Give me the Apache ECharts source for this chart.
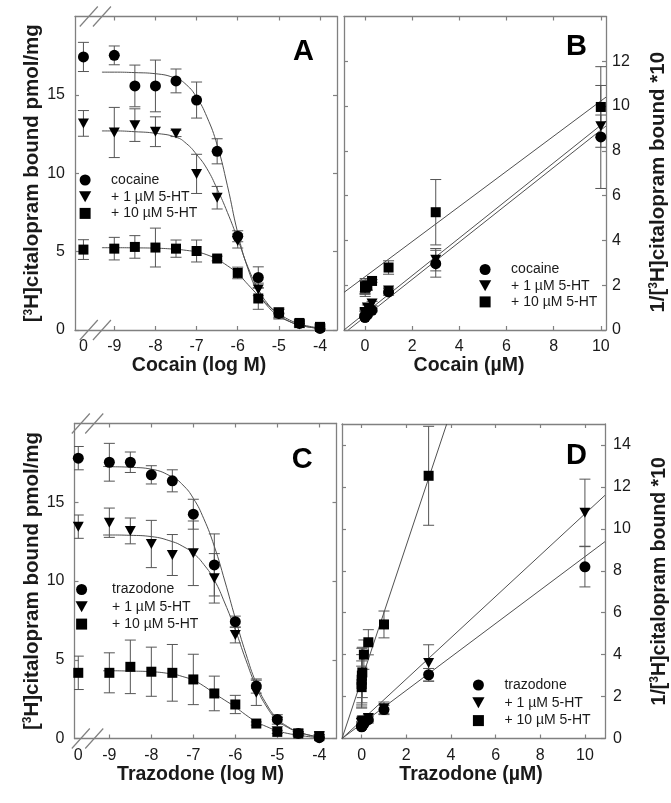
<!DOCTYPE html>
<html><head><meta charset="utf-8">
<script src="https://cdn.jsdelivr.net/npm/echarts@6/dist/echarts.min.js"></script>
<style>html,body{margin:0;padding:0;background:#fff}#c{width:671px;height:803px}</style>
</head><body><div id="c"></div>
<script>
// ================= DATA =================
// log-concentration points (first value of every series is the control "0")
const logConc = [-9, -8.5, -8, -7.5, -7, -6.5, -6, -5.5, -5, -4.5, -4];
const logTickLabels = ['0', '-9', '-8', '-7', '-6', '-5', '-4'];
const seriesNames = ['+ 1 µM 5-HT', '+ 10 µM 5-HT'];

// Panel A: cocaine, [3H]citalopram bound (pmol/mg); index 0 = control
const A_cocaine      = [17.42, 17.52, 15.57, 15.57, 15.89, 14.67, 11.40, 5.98, 3.35, 1.06, 0.42, 0.10];
const A_cocaine_err  = [0.93, 0.60, 1.33, 1.65, 0.76, 1.15, 0.80, 0.35, 0.68, 0.30, 0.20, 0.15];
const A_5ht1         = [13.18, 12.60, 13.07, 12.65, 12.54, 9.96, 8.44, 5.68, 2.59, 1.00, 0.35, 0.12];
const A_5ht1_err     = [0.82, 1.60, 1.04, 0.95, 0.20, 1.25, 0.72, 0.45, 0.40, 0.30, 0.20, 0.15];
const A_5ht10        = [5.13, 5.19, 5.30, 5.26, 5.19, 5.04, 4.56, 3.64, 2.01, 1.12, 0.45, 0.20];
const A_5ht10_err    = [0.63, 0.72, 0.72, 1.24, 0.55, 0.70, 0.15, 0.37, 0.69, 0.30, 0.20, 0.15];
// fitted curves
const A_fitX         = [-9.3, -9, -8.5, -8, -7.5, -7.25, -7, -6.75, -6.5, -6.25, -6, -5.75, -5.5, -5.25, -5, -4.75, -4.5, -4.25, -4];
const A_fit_cocaine  = [16.45, 16.45, 16.42, 16.35, 16.05, 15.65, 14.85, 13.6, 11.8, 9.2, 6.2, 3.9, 2.4, 1.45, 0.9, 0.55, 0.32, 0.18, 0.10];
const A_fit_5ht1     = [12.7, 12.7, 12.65, 12.55, 12.3, 11.9, 11.2, 10.3, 9.0, 7.5, 5.8, 4.0, 2.6, 1.6, 0.95, 0.55, 0.32, 0.18, 0.10];
const A_fit_5ht10    = [5.25, 5.25, 5.24, 5.22, 5.15, 5.08, 4.98, 4.8, 4.5, 4.1, 3.6, 2.9, 2.2, 1.55, 1.05, 0.65, 0.4, 0.23, 0.13];

// Panel B: cocaine (µM) vs 1/[3H]citalopram bound *10
const uMConc         = [0, 0.001, 0.003, 0.01, 0.03, 0.1, 0.3, 1, 3, 10];
const B_cocaine      = [0.57, 0.57, 0.64, 0.64, 0.63, 0.68, 0.88, 1.70, 2.96, 8.62];
const B_cocaine_err  = [0.05, 0.04, 0.06, 0.07, 0.04, 0.06, 0.07, 0.15, 0.60, 2.30];
const B_5ht1         = [0.76, 0.80, 0.77, 0.80, 0.80, 1.00, 1.18, 1.76, 3.14, 9.10];
const B_5ht1_err     = [0.06, 0.12, 0.08, 0.07, 0.03, 0.12, 0.10, 0.15, 0.50, 0.50];
const B_5ht10        = [1.95, 1.93, 1.89, 1.90, 1.93, 1.98, 2.19, 2.79, 5.26, 9.96];
const B_5ht10_err    = [0.25, 0.30, 0.30, 0.40, 0.15, 0.20, 0.06, 0.30, 1.46, 1.80];
const B_line_cocaine = [[-0.71, 0], [10.22, 9.11]];
const B_line_5ht1    = [[-0.89, 0], [10.22, 9.33]];
const B_line_5ht10   = [[-0.89, 1.68], [10.22, 10.40]];

// Panel C: trazodone (log M)
const C_trazodone     = [17.80, 17.54, 17.54, 16.74, 16.36, 14.24, 11.02, 7.42, 3.33, 1.21, 0.32, 0.05];
const C_trazodone_err = [0.74, 1.20, 0.65, 0.58, 0.70, 0.95, 1.97, 0.35, 0.45, 0.30, 0.15, 0.10];
const C_5ht1          = [13.45, 13.70, 13.18, 12.35, 11.65, 11.76, 10.17, 6.57, 2.90, 1.06, 0.30, 0.15];
const C_5ht1_err      = [0.74, 0.93, 0.82, 1.50, 1.30, 2.05, 1.57, 0.50, 0.80, 0.30, 0.15, 0.10];
const C_5ht10         = [4.17, 4.17, 4.55, 4.24, 4.17, 3.75, 2.86, 2.16, 0.95, 0.42, 0.32, 0.15];
const C_5ht10_err     = [1.06, 1.27, 1.70, 1.56, 1.80, 1.60, 1.10, 0.58, 0.10, 0.10, 0.10, 0.10];
const C_fitX          = [-9.15, -9, -8.5, -8, -7.5, -7.25, -7, -6.75, -6.5, -6.25, -6, -5.75, -5.5, -5.25, -5, -4.75, -4.5, -4.25, -4];
const C_fit_trazodone = [17.27, 17.26, 17.22, 17.1, 16.6, 16.1, 15.25, 13.95, 12.2, 10.0, 7.63, 5.4, 3.5, 2.15, 1.27, 0.75, 0.42, 0.22, 0.10];
const C_fit_5ht1      = [12.92, 12.92, 12.9, 12.82, 12.5, 12.2, 11.76, 11.05, 10.06, 8.6, 6.9, 5.0, 3.28, 2.0, 1.17, 0.7, 0.42, 0.22, 0.10];
const C_fit_5ht10     = [4.3, 4.3, 4.28, 4.24, 4.09, 3.93, 3.7, 3.33, 2.86, 2.43, 2.0, 1.5, 1.06, 0.75, 0.49, 0.32, 0.21, 0.12, 0.06];

// Panel D: trazodone (µM)
const D_trazodone     = [0.56, 0.57, 0.57, 0.60, 0.61, 0.70, 0.90, 1.38, 3.04, 8.19];
const D_trazodone_err = [0.03, 0.06, 0.04, 0.04, 0.04, 0.06, 0.16, 0.20, 0.30, 0.96];
const D_5ht1          = [0.74, 0.73, 0.76, 0.81, 0.86, 0.85, 0.98, 1.44, 3.60, 10.77];
const D_5ht1_err      = [0.04, 0.05, 0.06, 0.12, 0.10, 0.18, 0.15, 0.30, 0.87, 1.60];
const D_5ht10         = [2.45, 2.60, 2.80, 3.00, 3.15, 4.00, 4.59, 5.44, 12.53, null];
const D_5ht10_err     = [1.00, 1.10, 1.20, 1.30, 1.20, 0.70, 0.60, 0.64, 2.36, null];
const D_line_trazodone = [[-0.88, 0], [10.9, 9.39]];
const D_line_5ht1      = [[-0.88, 0], [10.9, 11.6]];
const D_line_5ht10     = [[-0.88, 0], [3.81, 15.0]];

// ================= LAYOUT / STYLE =================
const FONT = 'Liberation Sans';
const AXC = '#808080';
const TXT = '#1a1a1a';
const ERRC = '#555';
const FITC = '#505050';
const CTRL_A = -9.75, CTRL_C = -9.74;
const TRI = 'path://M0,0L10,0L5,9Z';
const SQR = 'path://M0,0L10,0L10,10L0,10Z';
const SYM = [{s: 'circle', z: 11}, {s: TRI, z: [11, 10]}, {s: SQR, z: 10}];

const grids = [
  {left: 75,  top: 16.5,  width: 262, height: 313.5},
  {left: 344, top: 16.5,  width: 262, height: 313.5},
  {left: 74.5, top: 423.5, width: 262, height: 315},
  {left: 342, top: 424,   width: 263, height: 314.5}
];

function nameStyle(size) {
  return {fontFamily: FONT, fontWeight: 'bold', fontSize: size, color: TXT,
    rich: {sup: {fontFamily: FONT, fontWeight: 'bold', fontSize: 12, color: TXT, padding: [0, 0, 9, 0]}}};
}
const labelStyle = {fontFamily: FONT, fontSize: 16, color: TXT};

function axisBase(gridIndex, min, max, ticks) {
  return {
    type: 'value', gridIndex, min, max,
    axisLine: {show: true, onZero: false, lineStyle: {color: AXC, width: 1.3}},
    axisTick: {show: true, inside: true, length: 4, customValues: ticks, lineStyle: {color: AXC, width: 1.2}},
    splitLine: {show: false}
  };
}
function mainAxis(gridIndex, min, max, ticks, labels, pos, name, nameGap, margin, fmt, shift, size) {
  const a = axisBase(gridIndex, min, max, ticks);
  a.position = pos;
  a.axisLabel = Object.assign({show: true, margin, customValues: labels, formatter: fmt || (v => String(v))}, labelStyle);
  a.name = name; a.nameLocation = 'middle'; a.nameGap = nameGap;
  a.nameTextStyle = Object.assign({}, nameStyle(size || 19.5), shift ? {padding: [0, shift, 0, 0]} : {});
  if (pos === 'left' || pos === 'right') a.nameRotate = 90;
  return a;
}
function mirrorAxis(gridIndex, min, max, ticks, pos) {
  const a = axisBase(gridIndex, min, max, ticks);
  a.position = pos;
  a.axisLabel = {show: false};
  return a;
}

const logLabelA = [CTRL_A, -9, -8, -7, -6, -5, -4];
const logLabelC = [CTRL_C, -9, -8, -7, -6, -5, -4];
const logTicks = [-9, -8, -7, -6, -5, -4];
const fmtLog = ctrl => (v => Math.abs(v - ctrl) < 1e-6 ? logTickLabels[0] : logTickLabels[logTicks.indexOf(v) + 1]);
const uMTicks = [0, 2, 4, 6, 8, 10];

const xAxis = [
  mainAxis(0, -9.955, -3.587, logTicks, logLabelA, 'bottom', 'Cocain (log M)', 24, 9, fmtLog(CTRL_A), 14),
  mirrorAxis(0, -9.955, -3.587, logTicks, 'top'),
  mainAxis(1, -0.89, 10.22, uMTicks, uMTicks, 'bottom', 'Cocain (µM)', 24, 9, null, 12),
  mirrorAxis(1, -0.89, 10.22, uMTicks, 'top'),
  mainAxis(2, -9.83, -3.59, logTicks, logLabelC, 'bottom', 'Trazodone (log M)', 24, 9, fmtLog(CTRL_C), 10),
  mirrorAxis(2, -9.83, -3.59, logTicks, 'top'),
  mainAxis(3, -0.88, 10.9, uMTicks, uMTicks, 'bottom', 'Trazodone (µM)', 24, 9, null, 5),
  mirrorAxis(3, -0.88, 10.9, uMTicks, 'top')
];
const yBindName = '[{sup|3}H]citalopram bound pmol/mg';
const yInvName = '1/[{sup|3}H]citalopram bound *10';
const yA = [0, 5, 10, 15], yB = [0, 2, 4, 6, 8, 10, 12], yD = [0, 2, 4, 6, 8, 10, 12, 14];
const yAxis = [
  mainAxis(0, 0, 20, yA, yA, 'left', yBindName, 31, 10, null, 0, 20.5),
  mirrorAxis(0, 0, 20, yA, 'right'),
  mainAxis(1, 0, 14, yB, yB, 'right', yInvName, 42, 6, null, 18, 20.5),
  mirrorAxis(1, 0, 14, yB, 'left'),
  mainAxis(2, 0, 20, yA, yA, 'left', yBindName, 31, 10, null, 0, 20.5),
  mirrorAxis(2, 0, 20, yA, 'right'),
  mainAxis(3, 0, 15, yD, yD, 'right', yInvName, 44, 8, null, 0, 19.5),
  mirrorAxis(3, 0, 15, yD, 'left')
];

// ================= SERIES BUILDERS =================
function pts(xs, ys) { return xs.map((x, i) => [x, ys[i]]).filter(d => d[1] != null); }
function scatter(name, xs, ys, k, g) {
  return {type: 'scatter', name, xAxisIndex: 2 * g, yAxisIndex: 2 * g, data: pts(xs, ys),
    symbol: SYM[k].s, symbolSize: SYM[k].z, itemStyle: {color: '#000', opacity: 1}, z: 5, silent: true};
}
function errBars(xs, ys, es, g) {
  const data = xs.map((x, i) => [x, ys[i], es[i]]).filter(d => d[1] != null && d[2] != null);
  return {type: 'custom', xAxisIndex: 2 * g, yAxisIndex: 2 * g, data, z: 3, silent: true, clip: true,
    encode: {x: 0, y: 1},
    renderItem: (params, api) => {
      const x = api.value(0), y = api.value(1), e = api.value(2);
      const t = api.coord([x, y + e]), b = api.coord([x, y - e]);
      const hw = 5.5, st = {stroke: ERRC, lineWidth: 1};
      return {type: 'group', children: [
        {type: 'line', shape: {x1: t[0], y1: t[1], x2: b[0], y2: b[1]}, style: st},
        {type: 'line', shape: {x1: t[0] - hw, y1: t[1], x2: t[0] + hw, y2: t[1]}, style: st},
        {type: 'line', shape: {x1: b[0] - hw, y1: b[1], x2: b[0] + hw, y2: b[1]}, style: st}
      ]};
    }};
}
function fit(xs, ys, g) {
  return {type: 'line', xAxisIndex: 2 * g, yAxisIndex: 2 * g, data: pts(xs, ys), smooth: true,
    symbol: 'none', lineStyle: {color: FITC, width: 1}, z: 2, silent: true};
}
function straight(seg, g) {
  return {type: 'line', xAxisIndex: 2 * g, yAxisIndex: 2 * g, data: seg, symbol: 'none', clip: true,
    lineStyle: {color: FITC, width: 1}, z: 2, silent: true};
}
const xA = [CTRL_A].concat(logConc), xC = [CTRL_C].concat(logConc);

const series = [
  // A
  fit(A_fitX, A_fit_cocaine, 0), fit(A_fitX, A_fit_5ht1, 0), fit(A_fitX, A_fit_5ht10, 0),
  errBars(xA, A_cocaine, A_cocaine_err, 0), errBars(xA, A_5ht1, A_5ht1_err, 0), errBars(xA, A_5ht10, A_5ht10_err, 0),
  scatter('cocaine', xA, A_cocaine, 0, 0), scatter(seriesNames[0], xA, A_5ht1, 1, 0), scatter(seriesNames[1], xA, A_5ht10, 2, 0),
  // B
  straight(B_line_cocaine, 1), straight(B_line_5ht1, 1), straight(B_line_5ht10, 1),
  errBars(uMConc, B_cocaine, B_cocaine_err, 1), errBars(uMConc, B_5ht1, B_5ht1_err, 1), errBars(uMConc, B_5ht10, B_5ht10_err, 1),
  scatter('cocaine', uMConc, B_cocaine, 0, 1), scatter(seriesNames[0], uMConc, B_5ht1, 1, 1), scatter(seriesNames[1], uMConc, B_5ht10, 2, 1),
  // C
  fit(C_fitX, C_fit_trazodone, 2), fit(C_fitX, C_fit_5ht1, 2), fit(C_fitX, C_fit_5ht10, 2),
  errBars(xC, C_trazodone, C_trazodone_err, 2), errBars(xC, C_5ht1, C_5ht1_err, 2), errBars(xC, C_5ht10, C_5ht10_err, 2),
  scatter('trazodone', xC, C_trazodone, 0, 2), scatter(seriesNames[0], xC, C_5ht1, 1, 2), scatter(seriesNames[1], xC, C_5ht10, 2, 2),
  // D
  straight(D_line_trazodone, 3), straight(D_line_5ht1, 3), straight(D_line_5ht10, 3),
  errBars(uMConc, D_trazodone, D_trazodone_err, 3), errBars(uMConc, D_5ht1, D_5ht1_err, 3), errBars(uMConc, D_5ht10, D_5ht10_err, 3),
  scatter('trazodone', uMConc, D_trazodone, 0, 3), scatter(seriesNames[0], uMConc, D_5ht1, 1, 3), scatter(seriesNames[1], uMConc, D_5ht10, 2, 3)
];

function legend(first, left, top, w, gap) {
  return {data: [first].concat(seriesNames), orient: 'vertical', left, top, itemWidth: w, itemHeight: 11,
    itemGap: gap, selectedMode: false, padding: 0,
    textStyle: {fontFamily: FONT, fontSize: 14, lineHeight: 14, color: TXT}};
}

const letters = [['A', 303, 51.7], ['B', 576, 46.7], ['C', 301.7, 459.3], ['D', 576, 455]];

const chart = echarts.init(document.getElementById('c'), null, {renderer: 'canvas'});
chart.setOption({
  animation: false,
  backgroundColor: '#fff',
  grid: grids,
  xAxis, yAxis, series,
  legend: [
    legend('cocaine', 79, 173, 42, 2.7),
    legend('cocaine', 479, 262.5, 42, 2.2),
    legend('trazodone', 75.5, 582.5, 51, 3.3),
    legend('trazodone', 472.3, 678, 42, 3.8)
  ]
});

// axis-break marks "//" on the log-scale panels
function breaks(g, vals) {
  const gr = grids[g], out = [];
  vals.forEach(v => {
    const cx = chart.convertToPixel({xAxisIndex: 2 * g}, v);
    [gr.top, gr.top + gr.height].forEach(cy => {
      out.push({type: 'line', silent: true, z: 10,
        shape: {x1: cx - 9, y1: cy + 10, x2: cx + 9, y2: cy - 10},
        style: {stroke: AXC, lineWidth: 1.2}});
    });
  });
  return out;
}
const brk = breaks(0, [-9.62, -9.30]).concat(breaks(2, [-9.68, -9.36]));
chart.setOption({graphic: letters.map(l => ({type: 'text', left: l[1] - 10, top: l[2] - 14, silent: true,
    style: {text: l[0], fontFamily: FONT, fontWeight: 'bold', fontSize: 29, fill: '#000'}})).concat(brk)});
</script></body></html>
